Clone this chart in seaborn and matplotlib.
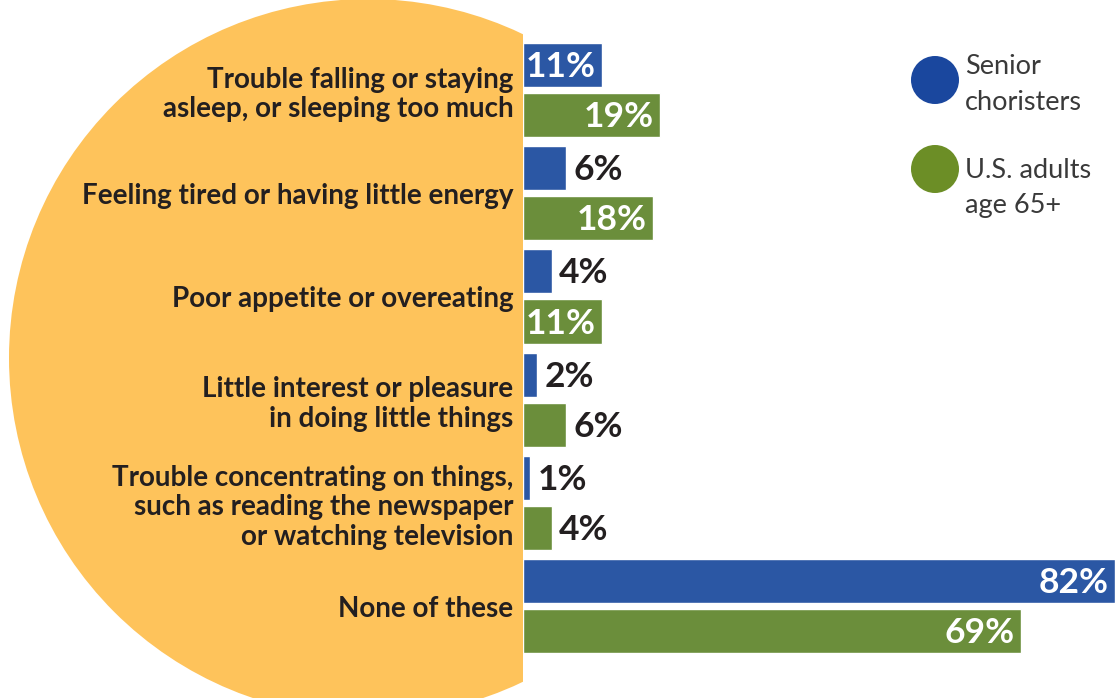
import matplotlib
matplotlib.use("Agg")
import matplotlib.pyplot as plt
from matplotlib.patches import Circle, Rectangle
import seaborn as sns
import pandas as pd

# ---- data ----
categories = [
    "Trouble falling or staying\nasleep, or sleeping too much",
    "Feeling tired or having little energy",
    "Poor appetite or overeating",
    "Little interest or pleasure\nin doing little things",
    "Trouble concentrating on things,\nsuch as reading the newspaper\nor watching television",
    "None of these",
]
series_names = ["Senior\nchoristers", "U.S. adults\nage 65+"]
senior_values = [11, 6, 4, 2, 1, 82]
us_values = [19, 18, 11, 6, 4, 69]

BLUE = "#2b57a4"
GREEN = "#6b8e3b"
ORANGE = "#fec35b"
LEG_BLUE = "#1a479e"
LEG_GREEN = "#6c8e26"
DARK = "#231f20"

sns.set_theme(style="white")
plt.rcParams["font.family"] = ["Lato", "DejaVu Sans"]

df = pd.DataFrame({
    "category": categories * 2,
    "group": [series_names[0]] * len(categories) + [series_names[1]] * len(categories),
    "value": senior_values + us_values,
})

W, H = 1115, 698
fig = plt.figure(figsize=(W / 100, H / 100), dpi=100)

# background axes in pixel coordinates
bg = fig.add_axes([0, 0, 1, 1])
bg.set_xlim(0, W)
bg.set_ylim(H, 0)
bg.axis("off")
clip = Rectangle((0, 0), 523, H, transform=bg.transData, visible=False)
bg.add_patch(clip)
circ = Circle((368, 358), 359, color=ORANGE, lw=0)
bg.add_patch(circ)
circ.set_clip_path(clip)

# legend
for (cy, ty, col, name) in [(80, 85, LEG_BLUE, series_names[0]),
                            (169, 188, LEG_GREEN, series_names[1])]:
    bg.add_patch(Circle((935, cy), 24, color=col, lw=0))
    bg.text(965, ty, name, ha="left", va="center", fontsize=19.5,
            color="#3a3a3a", linespacing=1.55, fontweight="normal")

# bar axes
x0 = 523 / W
ax = fig.add_axes([x0, 0, 1 - x0, 1])
ax.patch.set_alpha(0)
sns.barplot(data=df, y="category", x="value", hue="group", orient="h",
            palette=[BLUE, GREEN], width=0.97, gap=0.12, saturation=1,
            legend=False, ax=ax, order=categories, hue_order=series_names)
ax.set_xlim(0, 82.05)
ax.set_ylim(5.89, -0.872)
ax.set_xlabel("")
ax.set_ylabel("")
ax.set_xticks([])
for s in ax.spines.values():
    s.set_visible(False)
ax.tick_params(axis="y", length=0, pad=7)
for lbl in ax.get_yticklabels():
    lbl.set_fontsize(20)
    lbl.set_fontweight("bold")
    lbl.set_color(DARK)
    lbl.set_linespacing(1.17)

for cont in ax.containers:
    for bar in cont:
        v = bar.get_width()
        yc = bar.get_y() + bar.get_height() / 2
        if v >= 10:
            ax.text(v - 0.9, yc + 0.02, f"{v:g}%", ha="right", va="center",
                    color="white", fontsize=25.5, fontweight="bold")
        else:
            ax.text(v + 1.0, yc + 0.02, f"{v:g}%", ha="left", va="center",
                    color=DARK, fontsize=25.5, fontweight="bold")

fig.savefig("out.png", dpi=100)
